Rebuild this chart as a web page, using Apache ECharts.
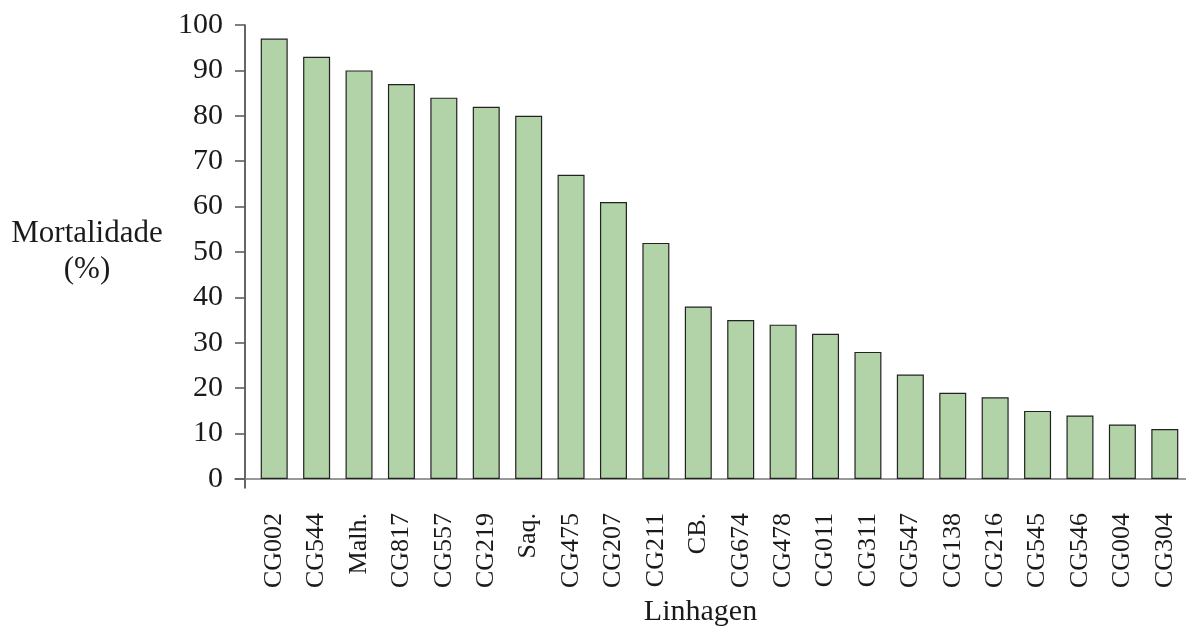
<!DOCTYPE html>
<html>
<head>
<meta charset="utf-8">
<script src="https://cdn.jsdelivr.net/npm/echarts@6/dist/echarts.min.js"></script>
<style>html,body{margin:0;padding:0;background:#fff}#c{width:1186px;height:632px}</style>
</head>
<body>
<div id="c"></div>
<script>
const categories = ['CG002','CG544','Malh.','CG817','CG557','CG219','Saq.','CG475','CG207','CG211','CB.','CG674','CG478','CG011','CG311','CG547','CG138','CG216','CG545','CG546','CG004','CG304'];
const mortality = [97,93,90,87,84,82,80,67,61,52,38,35,34,32,28,23,19,18,15,14,12,11];
const yTicks = [0,10,20,30,40,50,60,70,80,90,100];

const font = 'Liberation Serif, Times New Roman, serif';
const chart = echarts.init(document.getElementById('c'));
chart.setOption({
  animation: false,
  backgroundColor: '#fff',
  grid: [
    {left: 253, right: 0, top: 25, height: 454},
    {left: 235, right: 0, top: 25, height: 463}
  ],
  xAxis: [
    {
      type: 'category', gridIndex: 0, data: categories,
      axisLine: {show: false}, axisTick: {show: false},
      axisLabel: {rotate: 90, margin: 34, fontFamily: font, fontSize: 26, color: '#1a1a1a', interval: 0},
      name: 'Linhagen', nameLocation: 'middle', nameGap: 118,
      nameTextStyle: {fontFamily: font, fontSize: 30, color: '#1a1a1a', padding: [0, 38, 0, 0]}
    },
    {
      type: 'category', gridIndex: 1, data: categories, offset: -9,
      axisLine: {show: true, lineStyle: {color: '#777', width: 1.5}},
      axisTick: {show: false}, axisLabel: {show: false}
    }
  ],
  yAxis: [
    {
      type: 'value', gridIndex: 0, min: 0, max: 100, interval: 10, offset: 8,
      axisLine: {show: false},
      axisTick: {show: true, inside: false, length: 10, lineStyle: {color: '#555', width: 1.5}},
      splitLine: {show: false},
      axisLabel: {margin: 22, fontFamily: font, fontSize: 30, color: '#1a1a1a',
        formatter: v => yTicks.includes(v) ? String(v) : ''},
      name: 'Mortalidade\n(%)', nameLocation: 'middle', nameRotate: 0, nameGap: 158,
      nameTextStyle: {fontFamily: font, fontSize: 31, color: '#1a1a1a', align: 'center', lineHeight: 36}
    },
    {
      type: 'value', gridIndex: 1, min: 0, max: 100, offset: -10,
      axisLine: {show: true, lineStyle: {color: '#333', width: 1.5}},
      axisTick: {show: false}, axisLabel: {show: false}, splitLine: {show: false}
    }
  ],
  series: [{
    type: 'bar', xAxisIndex: 0, yAxisIndex: 0,
    data: mortality, barWidth: 27,
    itemStyle: {color: '#b2d3a8', borderColor: '#222', borderWidth: 1.2}
  }]
});
</script>
</body>
</html>
